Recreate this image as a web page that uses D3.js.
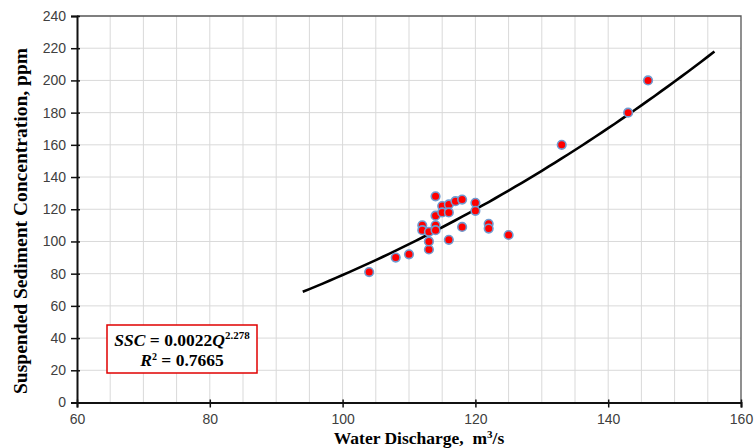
<!DOCTYPE html>
<html>
<head>
<meta charset="utf-8">
<script src="https://cdn.jsdelivr.net/npm/d3@7"></script>
<style>
  body { margin: 0; background: #fff; }
  svg { display: block; }
</style>
</head>
<body>
<svg id="chart" width="754" height="448"></svg>
<script>
// measured points (Q in m3/s, SSC in ppm)
const discharge = [104, 108, 110, 113, 113, 114, 115, 116, 117, 118, 114, 115, 116, 112, 112, 113, 114, 114, 116, 118, 120, 120, 122, 122, 125, 133, 143, 146];
const ssc = [81, 90, 92, 95, 100, 128, 122, 123, 125, 126, 116, 118, 118, 110, 107, 106, 110, 107, 101, 109, 124, 119, 111, 108, 104, 160, 180, 200];
const xTicks = [60, 80, 100, 120, 140, 160];
const yTicks = [0, 20, 40, 60, 80, 100, 120, 140, 160, 180, 200, 220, 240];
const coefA = 0.0022, coefB = 2.278;
const fitRange = [94, 156];

const svg = d3.select("#chart");
const plotL = 77, plotR = 741, plotT = 16, plotB = 402.5;

const x = d3.scaleLinear().domain([60, 160]).range([plotL, plotR]);
const y = d3.scaleLinear().domain([0, 240]).range([plotB, plotT]);

// vertical grid every 5
svg.append("g").selectAll("line")
  .data(d3.range(65, 160, 5))
  .join("line")
  .attr("x1", d => x(d)).attr("x2", d => x(d))
  .attr("y1", plotT).attr("y2", plotB)
  .attr("stroke", "#d9d9d9").attr("stroke-width", 1);

// horizontal grid every 20
svg.append("g").selectAll("line")
  .data(yTicks.slice(1, -1))
  .join("line")
  .attr("x1", plotL).attr("x2", plotR)
  .attr("y1", d => y(d)).attr("y2", d => y(d))
  .attr("stroke", "#d9d9d9").attr("stroke-width", 1);

// plot border top/right
svg.append("path")
  .attr("d", `M${plotL},${plotT}H${plotR}V${plotB}`)
  .attr("fill", "none").attr("stroke", "#555").attr("stroke-width", 1.3);

// axes
const xAxis = d3.axisBottom(x).tickValues(xTicks).tickSize(5).tickPadding(7);
const yAxis = d3.axisLeft(y).tickValues(yTicks).tickSize(6).tickPadding(5);

const gx = svg.append("g").attr("transform", `translate(0,${plotB})`).call(xAxis);
const gy = svg.append("g").attr("transform", `translate(${plotL},0)`).call(yAxis);

[gx, gy].forEach(g => {
  g.select(".domain").attr("stroke", "#111").attr("stroke-width", 2);
  g.selectAll(".tick line").attr("stroke", "#111").attr("stroke-width", 1.5);
  g.selectAll(".tick text")
    .attr("font-family", "'Liberation Sans', Arial, sans-serif")
    .attr("font-size", 14).attr("fill", "#404040");
});
gx.selectAll(".tick line").attr("y1", -3);
gy.selectAll(".tick line").attr("x1", 3);

// fitted power curve
const curveQ = d3.range(fitRange[0], fitRange[1] + 0.01, 1);
const line = d3.line()
  .x(q => x(q))
  .y(q => y(coefA * Math.pow(q, coefB)));
svg.append("path")
  .datum(curveQ)
  .attr("d", line)
  .attr("fill", "none").attr("stroke", "#000").attr("stroke-width", 2.6);

// points
svg.append("g").selectAll("circle")
  .data(discharge.map((q, i) => [q, ssc[i]]))
  .join("circle")
  .attr("cx", d => x(d[0])).attr("cy", d => y(d[1]))
  .attr("r", 4.3)
  .attr("fill", "#ff0000")
  .attr("stroke", "#6f9bd1").attr("stroke-width", 1.6);

// axis titles
svg.append("text")
  .attr("x", 419).attr("y", 444)
  .attr("text-anchor", "middle")
  .attr("font-family", "'Liberation Serif', 'Times New Roman', serif")
  .attr("font-weight", "bold").attr("font-size", 17.5)
  .html("Water Discharge,&#160; m<tspan baseline-shift='super' font-size='11'>3</tspan>/s");

svg.append("text")
  .attr("transform", `translate(27,221) rotate(-90)`)
  .attr("text-anchor", "middle")
  .attr("font-family", "'Liberation Serif', 'Times New Roman', serif")
  .attr("font-weight", "bold").attr("font-size", 18.5)
  .attr("textLength", 346).attr("lengthAdjust", "spacingAndGlyphs")
  .text("Suspended Sediment Concentration, ppm");

// equation box
svg.append("rect")
  .attr("x", 107).attr("y", 325).attr("width", 150).attr("height", 48)
  .attr("fill", "#fff").attr("stroke", "#e00000").attr("stroke-width", 1.5);

const eq = svg.append("text")
  .attr("x", 182).attr("y", 346)
  .attr("text-anchor", "middle")
  .attr("font-family", "'Liberation Serif', 'Times New Roman', serif")
  .attr("font-weight", "bold").attr("font-size", 17.5);
eq.append("tspan").attr("font-style", "italic").text("SSC");
eq.append("tspan").text(" = 0.0022");
eq.append("tspan").attr("font-style", "italic").text("Q");
eq.append("tspan").attr("font-size", 11).attr("dy", -7).text(coefB);

const r2 = svg.append("text")
  .attr("x", 182).attr("y", 366)
  .attr("text-anchor", "middle")
  .attr("font-family", "'Liberation Serif', 'Times New Roman', serif")
  .attr("font-weight", "bold").attr("font-size", 17.5);
r2.append("tspan").attr("font-style", "italic").text("R");
r2.append("tspan").attr("font-size", 10).attr("dy", -6).text("2");
r2.append("tspan").attr("dy", 6).text(" = 0.7665");
</script>
</body>
</html>
